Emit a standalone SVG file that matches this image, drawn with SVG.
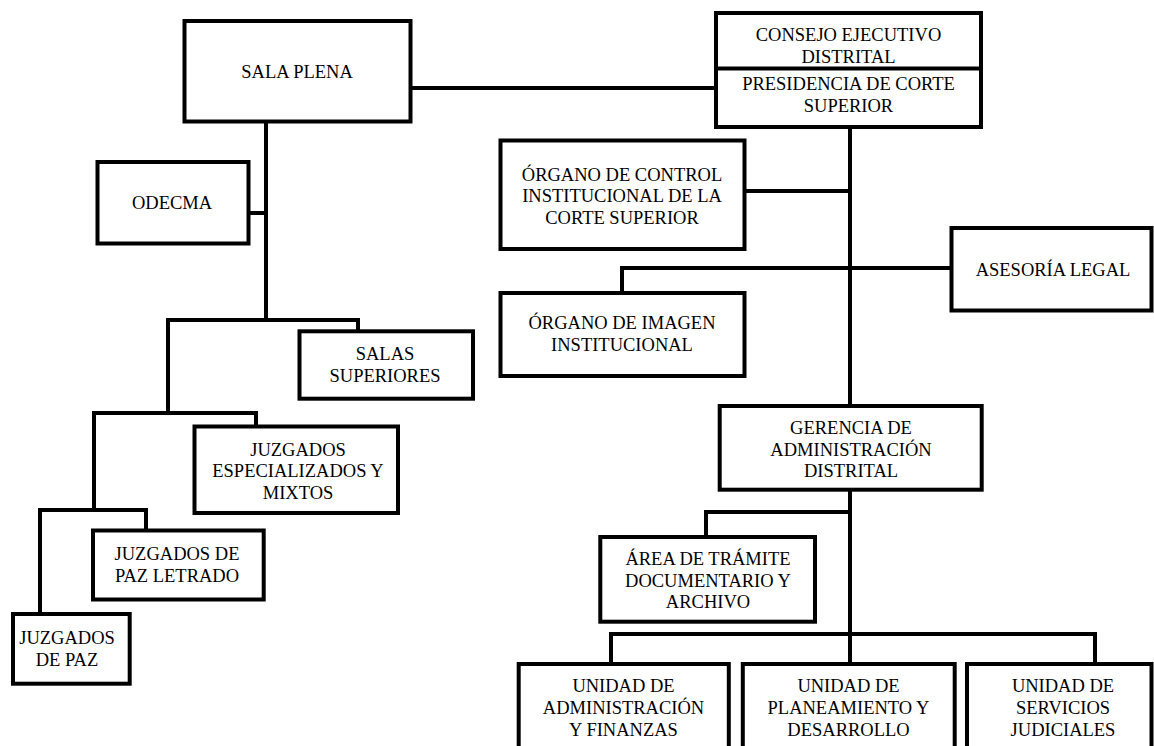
<svg xmlns="http://www.w3.org/2000/svg" width="1154" height="746" viewBox="0 0 1154 746">
<style>
.box{fill:#fff;stroke:#000;stroke-width:4}
.ln{fill:none;stroke:#000;stroke-width:4;stroke-linejoin:miter;stroke-linecap:butt}
text{font-family:'Liberation Serif','Times New Roman',serif;font-size:18.5px;fill:#000;text-anchor:middle}
</style>
<rect width="1154" height="746" fill="#fff"/>
<g id="connectors">
<path class="ln" d="M411 88H716"/>
<path class="ln" d="M266 121V322"/>
<path class="ln" d="M248.5 213H266"/>
<path class="ln" d="M168 413V320H358V331"/>
<path class="ln" d="M94 510V413H256V426.5"/>
<path class="ln" d="M40 614V510H146V530"/>
<path class="ln" d="M850 127V406"/>
<path class="ln" d="M744.5 191H850"/>
<path class="ln" d="M622 293V268H951.5"/>
<path class="ln" d="M850 489.7V664"/>
<path class="ln" d="M706 537V512H850"/>
<path class="ln" d="M611 664V634H1095V664"/>
</g>
<g id="sala-plena">
<rect class="box" x="184.5" y="21" width="226" height="100.5"/>
<text x="297" y="78">SALA PLENA</text>
</g>
<g id="consejo-presidencia">
<rect class="box" x="716" y="13" width="265" height="114"/>
<path class="ln" d="M716 68.5H981"/>
<text x="848.5" y="40.5">CONSEJO EJECUTIVO</text>
<text x="848.5" y="62.5">DISTRITAL</text>
<text x="848.5" y="90">PRESIDENCIA DE CORTE</text>
<text x="848.5" y="111.5">SUPERIOR</text>
</g>
<g id="odecma">
<rect class="box" x="97.5" y="162" width="151" height="81.5"/>
<text x="172" y="209">ODECMA</text>
</g>
<g id="organo-control">
<rect class="box" x="500.5" y="140.5" width="244" height="108.5"/>
<text x="622" y="180.5">ÓRGANO DE CONTROL</text>
<text x="622" y="202">INSTITUCIONAL DE LA</text>
<text x="622" y="223.5">CORTE SUPERIOR</text>
</g>
<g id="asesoria-legal">
<rect class="box" x="951.5" y="228" width="200" height="82.5"/>
<text x="1053" y="276">ASESORÍA LEGAL</text>
</g>
<g id="organo-imagen">
<rect class="box" x="500.5" y="293" width="244" height="83"/>
<text x="622" y="329">ÓRGANO DE IMAGEN</text>
<text x="622" y="350.5">INSTITUCIONAL</text>
</g>
<g id="salas-superiores">
<rect class="box" x="299.5" y="331.3" width="173.5" height="67.4"/>
<text x="385" y="360">SALAS</text>
<text x="385" y="381.5">SUPERIORES</text>
</g>
<g id="juzgados-especializados">
<rect class="box" x="194.5" y="426.5" width="203.5" height="86.5"/>
<text x="298" y="455.5">JUZGADOS</text>
<text x="298" y="477">ESPECIALIZADOS Y</text>
<text x="298" y="498.5">MIXTOS</text>
</g>
<g id="juzgados-paz-letrado">
<rect class="box" x="93" y="530.5" width="170.7" height="69"/>
<text x="177" y="560">JUZGADOS DE</text>
<text x="177" y="582">PAZ LETRADO</text>
</g>
<g id="juzgados-paz">
<rect class="box" x="13" y="614" width="116.7" height="69.7"/>
<text x="67" y="644">JUZGADOS</text>
<text x="67" y="665.5">DE PAZ</text>
</g>
<g id="gerencia">
<rect class="box" x="719.7" y="406" width="262" height="83.7"/>
<text x="851" y="434">GERENCIA DE</text>
<text x="851" y="455.5">ADMINISTRACIÓN</text>
<text x="851" y="477">DISTRITAL</text>
</g>
<g id="area-tramite">
<rect class="box" x="600.3" y="537" width="214.7" height="84.7"/>
<text x="708" y="565">ÁREA DE TRÁMITE</text>
<text x="708" y="586.5">DOCUMENTARIO Y</text>
<text x="708" y="608">ARCHIVO</text>
</g>
<g id="unidad-administracion">
<rect class="box" x="518.7" y="664" width="210.1" height="100"/>
<text x="623.5" y="691.5">UNIDAD DE</text>
<text x="623.5" y="713.5">ADMINISTRACIÓN</text>
<text x="623.5" y="735.5">Y FINANZAS</text>
</g>
<g id="unidad-planeamiento">
<rect class="box" x="742.8" y="664" width="211.9" height="100"/>
<text x="848.5" y="691.5">UNIDAD DE</text>
<text x="848.5" y="713.5">PLANEAMIENTO Y</text>
<text x="848.5" y="735.5">DESARROLLO</text>
</g>
<g id="unidad-servicios">
<rect class="box" x="967" y="664" width="184.5" height="100"/>
<text x="1063" y="691.5">UNIDAD DE</text>
<text x="1063" y="713.5">SERVICIOS</text>
<text x="1063" y="735.5">JUDICIALES</text>
</g>
</svg>
